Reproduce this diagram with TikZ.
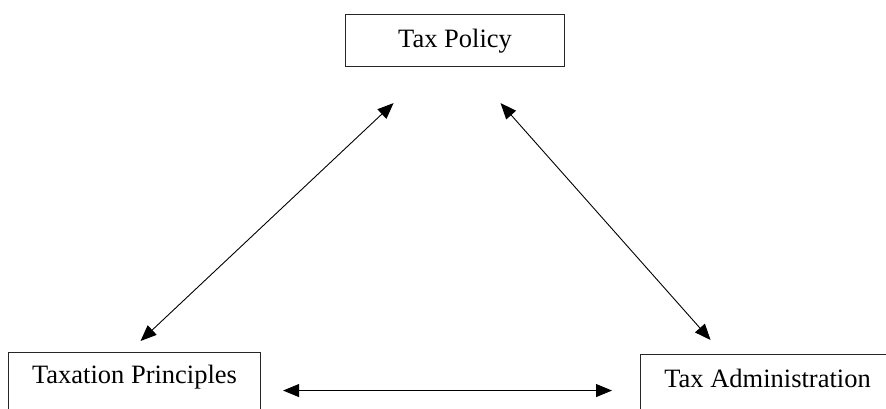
\documentclass[tikz,border=0pt]{standalone}
\usepackage{fontspec}
\setmainfont{Liberation Serif}
\usepackage{tikz}
\usetikzlibrary{
  calc,
  arrows.meta,
  positioning
}
\tikzset{
  block/.style={rectangle, draw=black!85, line width=1.1pt, inner xsep=0pt, inner ysep=0pt,
    font=\fontsize{26.5}{31}\selectfont},
  link/.style={{Triangle[length=16pt,width=13pt]}-{Triangle[length=16pt,width=13pt]}, line width=0.9pt}
}

\begin{document}
\begin{tikzpicture}[x=1pt, y=1pt]

% frame
\clip (0,0) rectangle (886,409);

% nodes
\node[block, anchor=north west, minimum width=219pt, text height=33pt, text depth=19pt]
  (policy) at (345,395) {Tax Policy};
\node[block, anchor=north west, minimum width=252pt, text height=31pt, text depth=34pt]
  (principles) at (8,57) {Taxation Principles};
\node[block, anchor=north west, minimum width=254pt, text height=33pt, text depth=34pt]
  (admin) at (640,55) {Tax Administration};

% arrows
\draw[link] ([shift={(6,11)}]principles.north) -- ([shift={(-61.5,-36)}]policy.south);
\draw[link] ([shift={(45.5,-36)}]policy.south) -- ([shift={(-57,14)}]admin.north);
\draw[link] ([shift={(22,-5.5)}]principles.east) -- ([shift={(-28,-2.5)}]admin.west);

\end{tikzpicture}
\end{document}
